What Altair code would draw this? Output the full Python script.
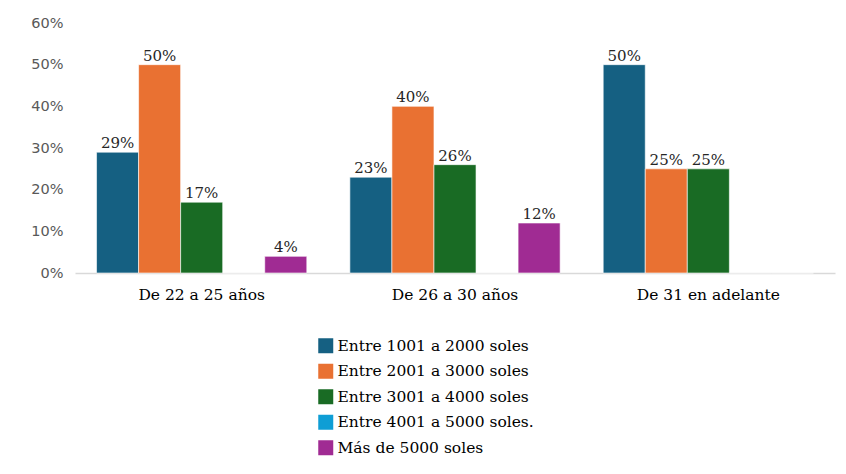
import altair as alt
import pandas as pd

groups = ["De 22 a 25 años", "De 26 a 30 años", "De 31 en adelante"]
series = ["Entre 1001 a 2000 soles", "Entre 2001 a 3000 soles", "Entre 3001 a 4000 soles",
          "Entre 4001 a 5000 soles.", "Más de 5000 soles"]
values = {
    "Entre 1001 a 2000 soles": [0.29, 0.23, 0.50],
    "Entre 2001 a 3000 soles": [0.50, 0.40, 0.25],
    "Entre 3001 a 4000 soles": [0.17, 0.26, 0.25],
    "Entre 4001 a 5000 soles.": [0.0, 0.0, 0.0],
    "Más de 5000 soles": [0.04, 0.12, 0.0],
}
colors = ["#156082", "#E97132", "#196B24", "#0F9ED5", "#A02B93"]
y_ticks = [0, 0.1, 0.2, 0.3, 0.4, 0.5, 0.6]

rows = []
for s in series:
    for g, v in zip(groups, values[s]):
        rows.append({"grupo": g, "serie": s, "valor": v})
df = pd.DataFrame(rows)

FONT = "DejaVu Serif"

x = alt.X("grupo:N", sort=groups, title=None,
          scale=alt.Scale(paddingInner=0.17, paddingOuter=0.085),
          axis=alt.Axis(labelAngle=0, labelFont=FONT, labelFontSize=15.5, labelColor="#000000",
                        labelPadding=14, domainColor="#d9d9d9", domainWidth=1.5, ticks=False))
xo = alt.XOffset("serie:N", sort=series, scale=alt.Scale(paddingInner=0, paddingOuter=0))
y = alt.Y("valor:Q", title=None,
          scale=alt.Scale(domain=[0, 0.6], nice=False),
          axis=alt.Axis(values=y_ticks, format=".0%", grid=False, domain=False, ticks=False,
                        labelFont="DejaVu Sans", labelFontSize=14.5, labelColor="#595959",
                        labelPadding=12))

bars = alt.Chart(df).mark_bar(stroke="white", strokeWidth=0.6).encode(
    x=x, xOffset=xo, y=y,
    color=alt.Color("serie:N", sort=series, title=None,
                    scale=alt.Scale(domain=series, range=colors),
                    legend=alt.Legend(orient="none", legendX=243, legendY=315, direction="vertical",
                                      symbolType="square", symbolSize=225, symbolStrokeWidth=0,
                                      labelFont=FONT, labelFontSize=15.5, labelColor="#000000",
                                      labelOffset=4, rowPadding=8.5, labelLimit=400)),
)

labels = alt.Chart(df).transform_filter("datum.valor > 0").mark_text(
    dy=-9, font=FONT, fontSize=15, color="#262626"
).encode(
    x=alt.X("grupo:N", sort=groups),
    xOffset=alt.XOffset("serie:N", sort=series),
    y=alt.Y("valor:Q"),
    text=alt.Text("valor:Q", format=".0%"),
)

chart = alt.layer(bars, labels).properties(
    width=760, height=250,
    background="white",
    autosize=alt.AutoSizeParams(type="none"),
    padding={"left": 75, "top": 23, "right": 11, "bottom": 201},
).configure_view(stroke=None)

chart.save("out.html", embed_options={"renderer": "svg", "actions": False})
